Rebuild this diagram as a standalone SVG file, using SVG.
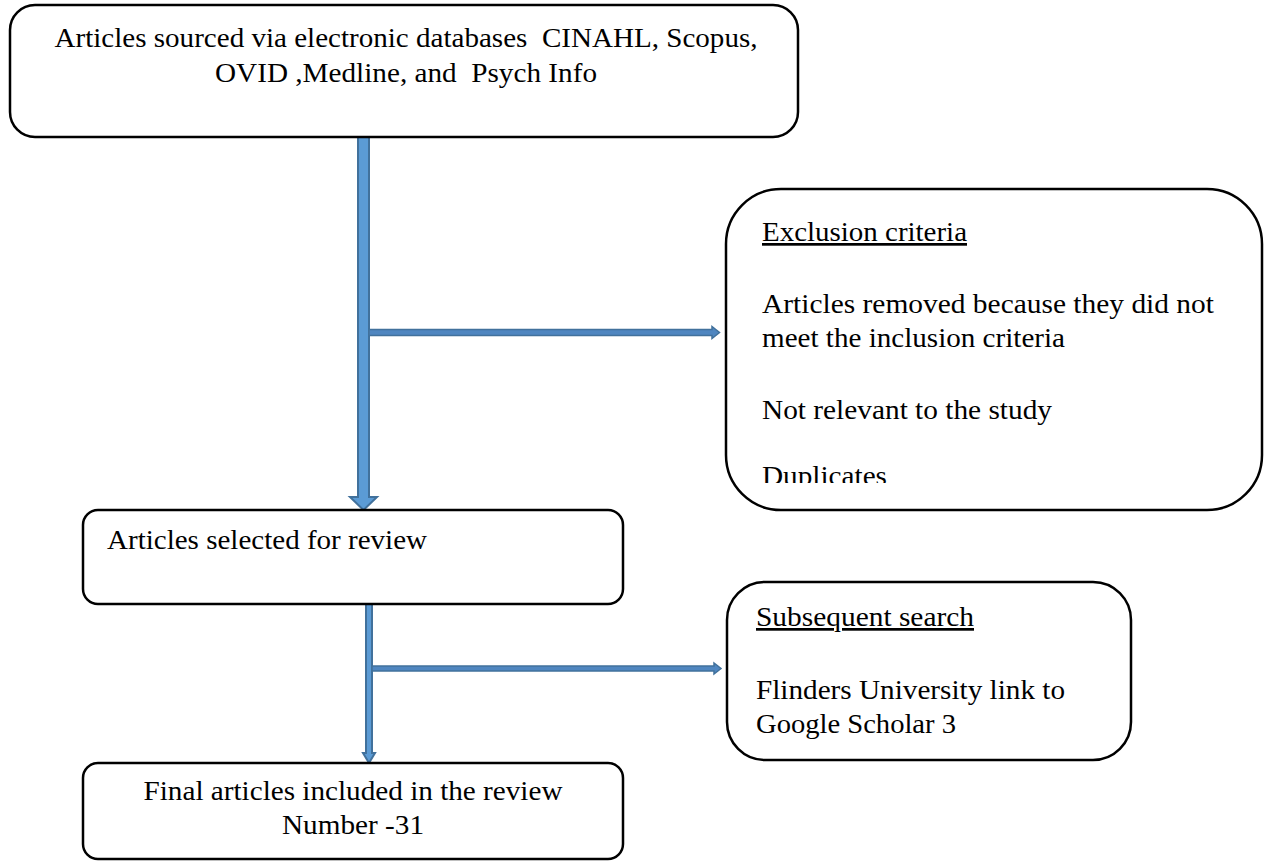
<svg xmlns="http://www.w3.org/2000/svg" width="1265" height="863" viewBox="0 0 1265 863">
<style>
.box{fill:#fff;stroke:#000;stroke-width:2.5}
.arr{fill:#5B9BD5;stroke:#41719C;stroke-width:2;stroke-linejoin:miter}
.arrt{fill:#4F86C0;stroke:#41719C;stroke-width:1.5}
text{font-family:"Liberation Serif","Times New Roman",serif;font-size:27px;fill:#000;white-space:pre}
.c{text-anchor:middle}
.u{text-decoration:underline}
</style>
<defs>
<clipPath id="exclip"><rect x="720" y="185" width="545" height="298"/></clipPath>
</defs>
<g id="connectors">
<polygon class="arr" points="358,137 369,137 369,497 377,497 363.5,510 350,497 358,497"/>
<polygon class="arrt" points="369,329.5 712,329.5 712,326.5 719.5,332.5 712,338.5 712,335.5 369,335.5"/>
<polygon class="arr" points="366,591 372,591 372,753 375,753 369,763 363,753 366,753"/>
<polygon class="arrt" points="372,666 714,666 714,663 721,668.5 714,674 714,671 372,671"/>
</g>
<g id="node-sources">
<rect class="box" x="10" y="5" width="788" height="132" rx="25" ry="25"/>
<text class="c" x="406" y="47" textLength="703" lengthAdjust="spacingAndGlyphs">Articles sourced via electronic databases  CINAHL, Scopus,</text>
<text class="c" x="406" y="82" textLength="382" lengthAdjust="spacingAndGlyphs">OVID ,Medline, and  Psych Info</text>
</g>
<g id="node-exclusion">
<rect class="box" x="726" y="189" width="536" height="321" rx="55" ry="55"/>
<text class="u" x="762" y="241" textLength="205" lengthAdjust="spacingAndGlyphs">Exclusion criteria</text>
<text x="762" y="313" textLength="452" lengthAdjust="spacingAndGlyphs">Articles removed because they did not</text>
<text x="762" y="347" textLength="303" lengthAdjust="spacingAndGlyphs">meet the inclusion criteria</text>
<text x="762" y="419" textLength="290" lengthAdjust="spacingAndGlyphs">Not relevant to the study</text>
<text x="762" y="485" textLength="125" lengthAdjust="spacingAndGlyphs" clip-path="url(#exclip)">Duplicates</text>
</g>
<g id="node-selected">
<rect class="box" x="83" y="510" width="540" height="94" rx="15" ry="15"/>
<text x="107" y="549" textLength="320" lengthAdjust="spacingAndGlyphs">Articles selected for review</text>
</g>
<g id="node-subsequent">
<rect class="box" x="727" y="582" width="404" height="178" rx="38" ry="38"/>
<text class="u" x="756" y="626" textLength="218" lengthAdjust="spacingAndGlyphs">Subsequent search</text>
<text x="756" y="699" textLength="309" lengthAdjust="spacingAndGlyphs">Flinders University link to</text>
<text x="756" y="733" textLength="200" lengthAdjust="spacingAndGlyphs">Google Scholar 3</text>
</g>
<g id="node-final">
<rect class="box" x="83" y="763" width="540" height="96" rx="15" ry="15"/>
<text class="c" x="353" y="800" textLength="419" lengthAdjust="spacingAndGlyphs">Final articles included in the review</text>
<text class="c" x="353" y="834" textLength="142" lengthAdjust="spacingAndGlyphs">Number -31</text>
</g>
</svg>
